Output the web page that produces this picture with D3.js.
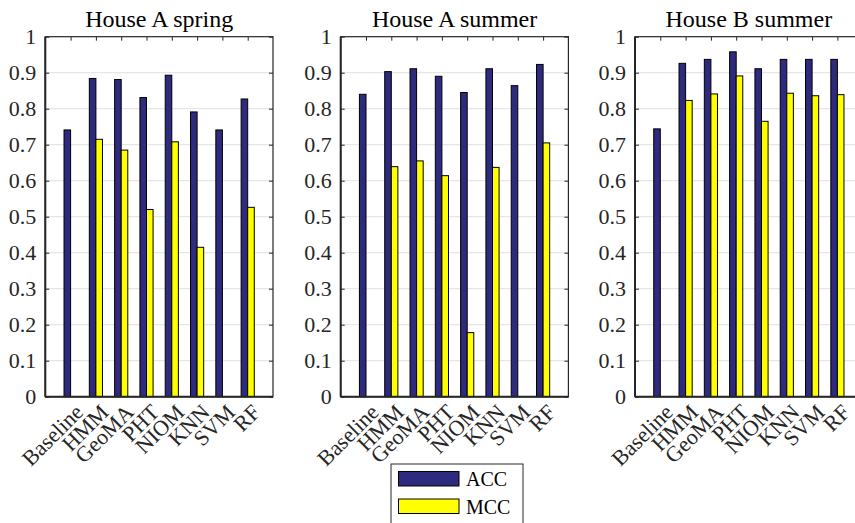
<!DOCTYPE html>
<html>
<head>
<meta charset="utf-8">
<script src="https://cdn.jsdelivr.net/npm/d3@7"></script>
<style>
  body { margin: 0; background: #fff; }
  svg text { font-family: "Liberation Serif", "Times New Roman", serif !important; }
</style>
</head>
<body>
<svg width="855" height="523"></svg>
<script>
const categories = ["Baseline", "HMM", "GeoMA", "PHT", "NIOM", "KNN", "SVM", "RF"];
const titles = ["House A spring", "House A summer", "House B summer"];
const seriesNames = ["ACC", "MCC"];
const yTicks = [0, 0.1, 0.2, 0.3, 0.4, 0.5, 0.6, 0.7, 0.8, 0.9, 1];

const accA_spring = [0.741, 0.884, 0.881, 0.831, 0.893, 0.791, 0.741, 0.827];
const mccA_spring = [0, 0.715, 0.685, 0.520, 0.708, 0.415, 0, 0.526];
const accA_summer = [0.840, 0.903, 0.911, 0.890, 0.845, 0.911, 0.864, 0.923];
const mccA_summer = [0, 0.639, 0.655, 0.614, 0.178, 0.637, 0, 0.705];
const accB_summer = [0.744, 0.926, 0.937, 0.958, 0.911, 0.937, 0.937, 0.937];
const mccB_summer = [0, 0.823, 0.841, 0.891, 0.765, 0.843, 0.836, 0.839];

const panels = [
  { title: titles[0], acc: accA_spring, mcc: mccA_spring },
  { title: titles[1], acc: accA_summer, mcc: mccA_summer },
  { title: titles[2], acc: accB_summer, mcc: mccB_summer }
];

const colors = ["#2e2a7e", "#ffff00"];
const axisColor = "#262626";
const serif = "Liberation Serif";

const svg = d3.select("svg");
const lefts = [45.3, 340.7, 635];
const pw = 227.7, plotTop = 36.7, plotBottom = 396.7;
const barW = 0.26;

const y = d3.scaleLinear().domain([0, 1]).range([plotBottom, plotTop]);

panels.forEach((p, pi) => {
  const x = d3.scaleLinear().domain([0, 9]).range([lefts[pi], lefts[pi] + pw]);
  const g = svg.append("g");

  // grid
  g.selectAll("line.grid")
    .data(yTicks.slice(1, -1))
    .enter().append("line")
    .attr("x1", x(0)).attr("x2", x(9))
    .attr("y1", d => y(d)).attr("y2", d => y(d))
    .attr("stroke", "#e6e6e6").attr("stroke-width", 1.3);

  // bars
  categories.forEach((c, i) => {
    [p.acc[i], p.mcc[i]].forEach((v, s) => {
      if (v <= 0) return;
      const x0 = s === 0 ? x(i + 1 - barW) : x(i + 1);
      g.append("rect")
        .attr("x", x0)
        .attr("y", y(v))
        .attr("width", x(i + 1 + barW) - x(i + 1))
        .attr("height", y(0) - y(v))
        .attr("fill", colors[s])
        .attr("stroke", "#000")
        .attr("stroke-width", 1);
    });
  });

  // axes (box)
  const yAxis = d3.axisLeft(y).tickValues(yTicks).tickSize(-4).tickPadding(9)
    .tickFormat(d => d === 0 || d === 1 ? String(d) : d3.format(".1f")(d));
  const ya = g.append("g").attr("transform", `translate(${x(0)},0)`).call(yAxis)
    .attr("font-family", serif);
  ya.select(".domain").remove();
  ya.selectAll("line").attr("stroke", axisColor);
  ya.selectAll("text").attr("font-size", 22).attr("fill", axisColor);

  const yR = d3.axisRight(y).tickValues(yTicks).tickSize(-4).tickFormat("");
  const yr = g.append("g").attr("transform", `translate(${x(9)},0)`).call(yR);
  yr.select(".domain").remove();
  yr.selectAll("line").attr("stroke", axisColor);

  const xTop = d3.axisTop(x).tickValues(d3.range(1, 9)).tickSize(-4).tickFormat("");
  const xt = g.append("g").attr("transform", `translate(0,${plotTop})`).call(xTop);
  xt.select(".domain").remove();
  xt.selectAll("line").attr("stroke", axisColor);

  g.append("rect")
    .attr("x", x(0)).attr("y", plotTop)
    .attr("width", x(9) - x(0)).attr("height", plotBottom - plotTop)
    .attr("fill", "none").attr("stroke", axisColor).attr("stroke-width", 1.2);
  g.append("line")
    .attr("x1", x(0)).attr("x2", x(9))
    .attr("y1", plotBottom).attr("y2", plotBottom)
    .attr("stroke", axisColor).attr("stroke-width", 2);
  g.append("line")
    .attr("x1", x(0)).attr("x2", x(0))
    .attr("y1", plotTop).attr("y2", plotBottom)
    .attr("stroke", axisColor).attr("stroke-width", 2);

  // x labels
  g.selectAll("text.cat")
    .data(categories)
    .enter().append("text")
    .attr("transform", (d, i) => `translate(${x(i + 1) + 3},${plotBottom + 6}) rotate(-45)`)
    .attr("text-anchor", "end")
    .attr("dy", "0.7em")
    .attr("font-family", serif)
    .attr("font-size", 22)
    .attr("fill", axisColor)
    .text(d => d);

  // title
  g.append("text")
    .attr("x", x(4.5)).attr("y", 27)
    .attr("text-anchor", "middle")
    .attr("font-family", serif)
    .attr("font-size", 24)
    .attr("fill", "#000")
    .text(p.title);
});

// legend
const lg = svg.append("g");
lg.append("rect")
  .attr("x", 391).attr("y", 464).attr("width", 132).attr("height", 70)
  .attr("fill", "#fff").attr("stroke", axisColor).attr("stroke-width", 1);
seriesNames.forEach((n, i) => {
  lg.append("rect")
    .attr("x", 398.5).attr("y", 471.5 + i * 27.5)
    .attr("width", 60.5).attr("height", 14.5)
    .attr("fill", colors[i]).attr("stroke", "#000").attr("stroke-width", 1);
  lg.append("text")
    .attr("x", 466).attr("y", 486 + i * 27.5)
    .attr("font-family", serif)
    .attr("font-size", 20).attr("fill", "#000")
    .text(n);
});
</script>
</body>
</html>
